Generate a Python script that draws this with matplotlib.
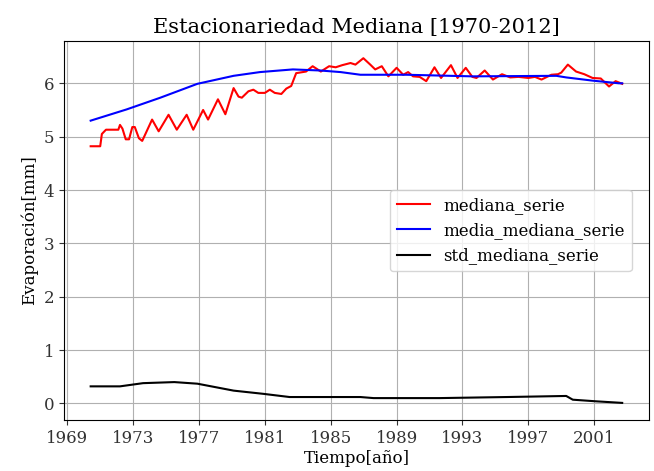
import matplotlib
matplotlib.use("Agg")
import matplotlib.pyplot as plt

plt.rcParams['font.family'] = 'serif'
plt.rcParams['font.serif'] = ['DejaVu Serif']

# Median series (decimal year, mm)
mediana_anio = [1970.42, 1971.00, 1971.10, 1971.35, 1972.10, 1972.20, 1972.35, 1972.55,
                1972.75, 1972.95, 1973.10, 1973.35, 1973.55, 1974.15, 1974.55, 1975.15,
                1975.65, 1976.25, 1976.65, 1977.25, 1977.55, 1978.15, 1978.6, 1979.1,
                1979.4, 1979.6, 1980.0, 1980.3, 1980.6, 1981.0, 1981.3, 1981.6, 1982.0,
                1982.3, 1982.6, 1982.9, 1983.5, 1983.9, 1984.4, 1984.9, 1985.3, 1985.7,
                1986.2, 1986.5, 1986.98, 1987.4, 1987.7, 1988.1, 1988.5, 1989.0, 1989.4,
                1989.7, 1990.0, 1990.4, 1990.8, 1991.3, 1991.7, 1992.3, 1992.7, 1993.2,
                1993.6, 1993.85, 1994.35, 1994.85, 1995.4, 1995.9, 1996.4, 1997.0,
                1997.4, 1997.8, 1998.4, 1998.8, 1999.0, 1999.4, 1999.9, 2000.4, 2000.9,
                2001.4, 2001.9, 2002.3, 2002.7]
mediana_serie = [4.82, 4.82, 5.05, 5.13, 5.13, 5.22, 5.15, 4.95,
                 4.95, 5.18, 5.18, 4.97, 4.92, 5.32, 5.10, 5.41,
                 5.13, 5.41, 5.13, 5.50, 5.32, 5.70, 5.42, 5.91,
                 5.75, 5.73, 5.85, 5.88, 5.82, 5.82, 5.88, 5.82, 5.80,
                 5.90, 5.95, 6.19, 6.22, 6.32, 6.22, 6.32, 6.30, 6.34,
                 6.38, 6.35, 6.47, 6.35, 6.26, 6.32, 6.13, 6.29, 6.16,
                 6.21, 6.13, 6.12, 6.04, 6.30, 6.10, 6.34, 6.10, 6.29,
                 6.12, 6.10, 6.24, 6.07, 6.17, 6.11, 6.12, 6.10,
                 6.12, 6.07, 6.16, 6.17, 6.20, 6.35, 6.22, 6.17, 6.10,
                 6.09, 5.94, 6.04, 5.99]

# Rolling mean of the median series
media_anio = [1970.42, 1972.6, 1974.65, 1976.9, 1979.1, 1980.7, 1982.7, 1984.35,
              1985.6, 1986.8, 1987.6, 1989.6, 1993.6, 1998.7, 1999.3, 2000.9, 2002.5, 2002.7]
media_mediana_serie = [5.30, 5.51, 5.73, 5.99, 6.14, 6.21, 6.26, 6.24,
                       6.21, 6.16, 6.16, 6.16, 6.13, 6.14, 6.11, 6.05, 6.00, 6.00]

# Rolling standard deviation of the median series
std_anio = [1970.42, 1972.2, 1973.6, 1975.5, 1976.9, 1979.1, 1980.9, 1982.5,
            1984.8, 1986.8, 1987.6, 1991.6, 1995.7, 1999.3, 1999.7, 2001.1, 2002.7]
std_mediana_serie = [0.32, 0.32, 0.38, 0.40, 0.37, 0.24, 0.18, 0.12,
                     0.12, 0.12, 0.10, 0.10, 0.12, 0.14, 0.07, 0.04, 0.01]

anios_ticks = [1969, 1973, 1977, 1981, 1985, 1989, 1993, 1997, 2001]

fig = plt.figure(figsize=(6.54, 4.71), dpi=100)
ax = fig.add_axes([0.098, 0.108, 0.894, 0.805])

ax.plot(mediana_anio, mediana_serie, color='red', lw=1.5, label='mediana_serie')
ax.plot(media_anio, media_mediana_serie, color='blue', lw=1.5, label='media_mediana_serie')
ax.plot(std_anio, std_mediana_serie, color='black', lw=1.5, label='std_mediana_serie')

ax.set_xticks(anios_ticks)
ax.set_xticklabels([str(a) for a in anios_ticks])
ax.set_yticks(range(0, 7))
ax.tick_params(labelsize=12, colors='#333333')
ax.grid(True)
ax.set_title('Estacionariedad Mediana [1970-2012]', fontsize=15)
ax.set_xlabel('Tiempo[año]', fontsize=12, labelpad=2)
ax.set_ylabel('Evaporación[mm]', fontsize=12)
ax.legend(loc='center right', bbox_to_anchor=(0.985, 0.5), fontsize=12)

fig.savefig('out.png', dpi=100)
